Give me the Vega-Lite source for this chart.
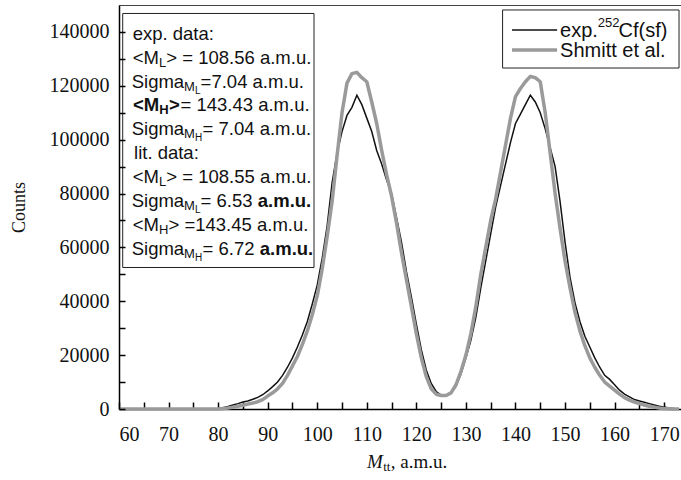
{
  "$schema": "https://vega.github.io/schema/vega-lite/v6.json",
  "width": 562,
  "height": 404,
  "autosize": {"type": "none"},
  "padding": {"left": 119, "top": 5, "right": 0, "bottom": 71},
  "background": "white",
  "config": {
    "view": {"stroke": "#444", "strokeWidth": 1},
    "axis": {"grid": false}
  },
  "datasets": {
    "exp": [
      {"m": 60, "n": 0}, {"m": 61, "n": 0}, {"m": 62, "n": 0}, {"m": 63, "n": 0}, {"m": 64, "n": 0},
      {"m": 65, "n": 0}, {"m": 66, "n": 0}, {"m": 67, "n": 0}, {"m": 68, "n": 0}, {"m": 69, "n": 0},
      {"m": 70, "n": 0}, {"m": 71, "n": 0}, {"m": 72, "n": 0}, {"m": 73, "n": 0}, {"m": 74, "n": 0},
      {"m": 75, "n": 0}, {"m": 76, "n": 0}, {"m": 77, "n": 0}, {"m": 78, "n": 0}, {"m": 79, "n": 0},
      {"m": 80, "n": 200}, {"m": 81, "n": 500}, {"m": 82, "n": 900}, {"m": 83, "n": 1500}, {"m": 84, "n": 2000},
      {"m": 85, "n": 2600}, {"m": 86, "n": 3000}, {"m": 87, "n": 3600}, {"m": 88, "n": 4300}, {"m": 89, "n": 5300},
      {"m": 90, "n": 6700}, {"m": 91, "n": 8300}, {"m": 92, "n": 10000}, {"m": 93, "n": 12500}, {"m": 94, "n": 15500},
      {"m": 95, "n": 19000}, {"m": 96, "n": 23000}, {"m": 97, "n": 27500}, {"m": 98, "n": 32500}, {"m": 99, "n": 39000},
      {"m": 100, "n": 46000}, {"m": 101, "n": 56000}, {"m": 102, "n": 68000}, {"m": 103, "n": 84000}, {"m": 104, "n": 95000},
      {"m": 105, "n": 103000}, {"m": 106, "n": 109000}, {"m": 107, "n": 112000}, {"m": 108, "n": 116500}, {"m": 109, "n": 113000},
      {"m": 110, "n": 108000}, {"m": 111, "n": 103000}, {"m": 112, "n": 96000}, {"m": 113, "n": 91000}, {"m": 114, "n": 85000},
      {"m": 115, "n": 80000}, {"m": 116, "n": 71000}, {"m": 117, "n": 62000}, {"m": 118, "n": 51000}, {"m": 119, "n": 41500},
      {"m": 120, "n": 31500}, {"m": 121, "n": 22000}, {"m": 122, "n": 14500}, {"m": 123, "n": 9500}, {"m": 124, "n": 6500},
      {"m": 125, "n": 5200}, {"m": 126, "n": 5000}, {"m": 127, "n": 6000}, {"m": 128, "n": 8500}, {"m": 129, "n": 13000},
      {"m": 130, "n": 19000}, {"m": 131, "n": 25500}, {"m": 132, "n": 34000}, {"m": 133, "n": 45000}, {"m": 134, "n": 55000},
      {"m": 135, "n": 65000}, {"m": 136, "n": 75000}, {"m": 137, "n": 83000}, {"m": 138, "n": 91000}, {"m": 139, "n": 99000},
      {"m": 140, "n": 106000}, {"m": 141, "n": 109500}, {"m": 142, "n": 113000}, {"m": 143, "n": 116500}, {"m": 144, "n": 114000},
      {"m": 145, "n": 110000}, {"m": 146, "n": 104000}, {"m": 147, "n": 97000}, {"m": 148, "n": 90000}, {"m": 149, "n": 77000},
      {"m": 150, "n": 62000}, {"m": 151, "n": 49000}, {"m": 152, "n": 39500}, {"m": 153, "n": 32500}, {"m": 154, "n": 27000},
      {"m": 155, "n": 23000}, {"m": 156, "n": 19000}, {"m": 157, "n": 15500}, {"m": 158, "n": 12500}, {"m": 159, "n": 11000},
      {"m": 160, "n": 9000}, {"m": 161, "n": 7000}, {"m": 162, "n": 5500}, {"m": 163, "n": 4500}, {"m": 164, "n": 3500},
      {"m": 165, "n": 3000}, {"m": 166, "n": 2500}, {"m": 167, "n": 2000}, {"m": 168, "n": 1500}, {"m": 169, "n": 1000},
      {"m": 170, "n": 700}, {"m": 171, "n": 400}, {"m": 172, "n": 200}, {"m": 173, "n": 100}
    ],
    "shmitt": [
      {"m": 60, "n": 0}, {"m": 61, "n": 0}, {"m": 62, "n": 0}, {"m": 63, "n": 0}, {"m": 64, "n": 0},
      {"m": 65, "n": 0}, {"m": 66, "n": 0}, {"m": 67, "n": 0}, {"m": 68, "n": 0}, {"m": 69, "n": 0},
      {"m": 70, "n": 0}, {"m": 71, "n": 0}, {"m": 72, "n": 0}, {"m": 73, "n": 0}, {"m": 74, "n": 0},
      {"m": 75, "n": 0}, {"m": 76, "n": 0}, {"m": 77, "n": 0}, {"m": 78, "n": 0}, {"m": 79, "n": 0},
      {"m": 80, "n": 0}, {"m": 81, "n": 200}, {"m": 82, "n": 400}, {"m": 83, "n": 700}, {"m": 84, "n": 1000},
      {"m": 85, "n": 1400}, {"m": 86, "n": 1800}, {"m": 87, "n": 2200}, {"m": 88, "n": 2700}, {"m": 89, "n": 3500},
      {"m": 90, "n": 4800}, {"m": 91, "n": 6000}, {"m": 92, "n": 7500}, {"m": 93, "n": 9500}, {"m": 94, "n": 12500},
      {"m": 95, "n": 16000}, {"m": 96, "n": 19500}, {"m": 97, "n": 24000}, {"m": 98, "n": 29000}, {"m": 99, "n": 35000},
      {"m": 100, "n": 42000}, {"m": 101, "n": 52000}, {"m": 102, "n": 64000}, {"m": 103, "n": 77000}, {"m": 104, "n": 94000},
      {"m": 105, "n": 110000}, {"m": 106, "n": 121000}, {"m": 107, "n": 124500}, {"m": 108, "n": 125000}, {"m": 109, "n": 123000},
      {"m": 110, "n": 121500}, {"m": 111, "n": 114000}, {"m": 112, "n": 106000}, {"m": 113, "n": 96000}, {"m": 114, "n": 87000},
      {"m": 115, "n": 79000}, {"m": 116, "n": 69000}, {"m": 117, "n": 58000}, {"m": 118, "n": 48000}, {"m": 119, "n": 38000},
      {"m": 120, "n": 28000}, {"m": 121, "n": 19000}, {"m": 122, "n": 12000}, {"m": 123, "n": 7500}, {"m": 124, "n": 5500},
      {"m": 125, "n": 5000}, {"m": 126, "n": 5000}, {"m": 127, "n": 6000}, {"m": 128, "n": 9000}, {"m": 129, "n": 14000},
      {"m": 130, "n": 20000}, {"m": 131, "n": 28000}, {"m": 132, "n": 38000}, {"m": 133, "n": 50000}, {"m": 134, "n": 60000},
      {"m": 135, "n": 70000}, {"m": 136, "n": 78000}, {"m": 137, "n": 88000}, {"m": 138, "n": 98000}, {"m": 139, "n": 108000},
      {"m": 140, "n": 116000}, {"m": 141, "n": 119000}, {"m": 142, "n": 121500}, {"m": 143, "n": 123500}, {"m": 144, "n": 123000},
      {"m": 145, "n": 121500}, {"m": 146, "n": 110000}, {"m": 147, "n": 95000}, {"m": 148, "n": 80000}, {"m": 149, "n": 67000},
      {"m": 150, "n": 55000}, {"m": 151, "n": 45000}, {"m": 152, "n": 36000}, {"m": 153, "n": 29000}, {"m": 154, "n": 23500},
      {"m": 155, "n": 19000}, {"m": 156, "n": 15500}, {"m": 157, "n": 12500}, {"m": 158, "n": 10000}, {"m": 159, "n": 8500},
      {"m": 160, "n": 7000}, {"m": 161, "n": 5500}, {"m": 162, "n": 4200}, {"m": 163, "n": 3300}, {"m": 164, "n": 2600},
      {"m": 165, "n": 2000}, {"m": 166, "n": 1500}, {"m": 167, "n": 1000}, {"m": 168, "n": 700}, {"m": 169, "n": 400},
      {"m": 170, "n": 200}, {"m": 171, "n": 100}, {"m": 172, "n": 0}, {"m": 173, "n": 0}
    ],
    "boxes": [
      {"m": 60.75, "m2": 99.35, "n": 52540, "n2": 146850},
      {"m": 137.4, "m2": 173.0, "n": 126600, "n2": 148150}
    ],
    "keyLines": [
      {"m": 139.3, "n": 140700, "s": "exp"}, {"m": 148.4, "n": 140700, "s": "exp"},
      {"m": 139.3, "n": 133300, "s": "lit"}, {"m": 148.4, "n": 133300, "s": "lit"}
    ],
    "keyText": [
      {"m": 149.0, "n": 140300, "t": "exp."},
      {"m": 160.8, "n": 140300, "t": "Cf(sf)"},
      {"m": 149.0, "n": 132900, "t": "Shmitt et al."}
    ],
    "keySup": [
      {"m": 156.6, "n": 140300, "t": "252"}
    ],
    "noteMain": [
      {"m": 62.76, "n": 139300, "t": "exp. data:"},
      {"m": 62.76, "n": 130450, "t": "<M"},
      {"m": 69.55, "n": 130450, "t": "> = 108.56 a.m.u."},
      {"m": 62.56, "n": 121550, "t": "Sigma"},
      {"m": 76.47, "n": 121550, "t": "=7.04 a.m.u."},
      {"m": 72.41, "n": 112700, "t": "= 143.43 a.m.u."},
      {"m": 62.56, "n": 103800, "t": "Sigma"},
      {"m": 76.86, "n": 103800, "t": "= 7.04 a.m.u."},
      {"m": 63.03, "n": 94950, "t": "lit. data:"},
      {"m": 62.76, "n": 86050, "t": "<M"},
      {"m": 69.55, "n": 86050, "t": "> = 108.55 a.m.u."},
      {"m": 62.56, "n": 77200, "t": "Sigma"},
      {"m": 76.47, "n": 77200, "t": "= 6.53"},
      {"m": 62.76, "n": 68300, "t": "<M"},
      {"m": 69.99, "n": 68300, "t": "> =143.45 a.m.u."},
      {"m": 62.56, "n": 59450, "t": "Sigma"},
      {"m": 76.86, "n": 59450, "t": "= 6.72"}
    ],
    "noteBold": [
      {"m": 62.83, "n": 112700, "t": "<M"},
      {"m": 70.09, "n": 112700, "t": ">"},
      {"m": 88.0, "n": 77200, "t": "a.m.u."},
      {"m": 88.4, "n": 59450, "t": "a.m.u."}
    ],
    "noteSubBold": [
      {"m": 68.10, "n": 112700, "t": "H"}
    ],
    "noteSub": [
      {"m": 68.05, "n": 130450, "t": "L"},
      {"m": 68.05, "n": 86050, "t": "L"},
      {"m": 68.05, "n": 68300, "t": "H"},
      {"m": 73.14, "n": 121550, "t": "M"},
      {"m": 73.14, "n": 103800, "t": "M"},
      {"m": 73.14, "n": 77200, "t": "M"},
      {"m": 73.14, "n": 59450, "t": "M"}
    ],
    "noteSubSub": [
      {"m": 75.34, "n": 121550, "t": "L"},
      {"m": 75.34, "n": 103800, "t": "H"},
      {"m": 75.34, "n": 77200, "t": "L"},
      {"m": 75.34, "n": 59450, "t": "H"}
    ],
    "xTitle": [
      {"m": 110.05, "n": -19500, "t": "M"}
    ],
    "xTitleSub": [
      {"m": 113.3, "n": -19500, "t": "tt"}
    ],
    "xTitleRest": [
      {"m": 114.85, "n": -19500, "t": ", a.m.u."}
    ]
  },
  "encoding": {
    "x": {
      "field": "m", "type": "quantitative", "title": null,
      "scale": {"domain": [60, 173.4], "nice": false, "zero": false},
      "axis": {
        "values": [60, 65, 70, 75, 80, 85, 90, 95, 100, 105, 110, 115, 120, 125, 130, 135, 140, 145, 150, 155, 160, 165, 170],
        "labelExpr": "datum.value % 10 === 0 ? datum.label : ''",
        "tickSize": -7,
        "tickColor": "#000",
        "tickWidth": 1.5,
        "domainColor": "#000",
        "domainWidth": 1.5,
        "labelFont": "Liberation Serif",
        "labelFontSize": 20,
        "labelColor": "#111",
        "labelPadding": 22
      }
    },
    "y": {
      "field": "n", "type": "quantitative", "title": "Counts",
      "scale": {"domain": [0, 150000], "nice": false},
      "axis": {
        "values": [0, 10000, 20000, 30000, 40000, 50000, 60000, 70000, 80000, 90000, 100000, 110000, 120000, 130000, 140000],
        "format": "d",
        "labelExpr": "datum.value % 20000 === 0 ? datum.label : ''",
        "tickSize": -6,
        "tickColor": "#000",
        "tickWidth": 1.5,
        "domainColor": "#000",
        "domainWidth": 1.5,
        "labelFont": "Liberation Serif",
        "labelFontSize": 20,
        "labelColor": "#111",
        "labelPadding": 16,
        "titleFont": "Liberation Serif",
        "titleFontSize": 18,
        "titleFontWeight": "normal",
        "titleColor": "#111",
        "titlePadding": 21,
        "zindex": 1
      }
    }
  },
  "layer": [
    {
      "data": {"name": "exp"},
      "mark": {"type": "line", "color": "#111", "strokeWidth": 1.5}
    },
    {
      "data": {"name": "shmitt"},
      "mark": {"type": "line", "color": "#9a9a9a", "strokeWidth": 3.5, "strokeJoin": "round"}
    },
    {
      "data": {"name": "boxes"},
      "mark": {"type": "rect", "fill": "white", "stroke": "#222", "strokeWidth": 1},
      "encoding": {
        "x2": {"field": "m2"},
        "y2": {"field": "n2"}
      }
    },
    {
      "data": {"name": "keyLines"},
      "mark": {"type": "line", "strokeCap": "butt"},
      "encoding": {
        "detail": {"field": "s"},
        "color": {"field": "s", "type": "nominal", "scale": {"domain": ["exp", "lit"], "range": ["#111", "#9a9a9a"]}, "legend": null},
        "strokeWidth": {"field": "s", "type": "nominal", "scale": {"domain": ["exp", "lit"], "range": [1.5, 3.5]}, "legend": null}
      }
    },
    {
      "data": {"name": "keyText"},
      "mark": {"type": "text", "font": "Liberation Sans", "fontSize": 20, "align": "left", "baseline": "middle", "color": "#111"},
      "encoding": {"text": {"field": "t"}}
    },
    {
      "data": {"name": "keySup"},
      "mark": {"type": "text", "font": "Liberation Sans", "fontSize": 13, "align": "left", "baseline": "middle", "dy": -8, "color": "#111"},
      "encoding": {"text": {"field": "t"}}
    },
    {
      "data": {"name": "noteMain"},
      "mark": {"type": "text", "font": "Liberation Sans", "fontSize": 18.5, "align": "left", "baseline": "middle", "color": "#111"},
      "encoding": {"text": {"field": "t"}}
    },
    {
      "data": {"name": "noteBold"},
      "mark": {"type": "text", "font": "Liberation Sans", "fontSize": 18.5, "fontWeight": "bold", "align": "left", "baseline": "middle", "color": "#111"},
      "encoding": {"text": {"field": "t"}}
    },
    {
      "data": {"name": "noteSubBold"},
      "mark": {"type": "text", "font": "Liberation Sans", "fontSize": 13, "fontWeight": "bold", "align": "left", "baseline": "middle", "dy": 5, "color": "#111"},
      "encoding": {"text": {"field": "t"}}
    },
    {
      "data": {"name": "noteSub"},
      "mark": {"type": "text", "font": "Liberation Sans", "fontSize": 13, "align": "left", "baseline": "middle", "dy": 5, "color": "#111"},
      "encoding": {"text": {"field": "t"}}
    },
    {
      "data": {"name": "noteSubSub"},
      "mark": {"type": "text", "font": "Liberation Sans", "fontSize": 10, "align": "left", "baseline": "middle", "dy": 9, "color": "#111"},
      "encoding": {"text": {"field": "t"}}
    },
    {
      "data": {"name": "xTitle"},
      "mark": {"type": "text", "font": "Liberation Serif", "fontSize": 19, "fontStyle": "italic", "align": "left", "baseline": "middle", "color": "#111"},
      "encoding": {"text": {"field": "t"}}
    },
    {
      "data": {"name": "xTitleSub"},
      "mark": {"type": "text", "font": "Liberation Serif", "fontSize": 13, "align": "left", "baseline": "middle", "dy": 5, "color": "#111"},
      "encoding": {"text": {"field": "t"}}
    },
    {
      "data": {"name": "xTitleRest"},
      "mark": {"type": "text", "font": "Liberation Serif", "fontSize": 19, "align": "left", "baseline": "middle", "color": "#111"},
      "encoding": {"text": {"field": "t"}}
    }
  ]
}
